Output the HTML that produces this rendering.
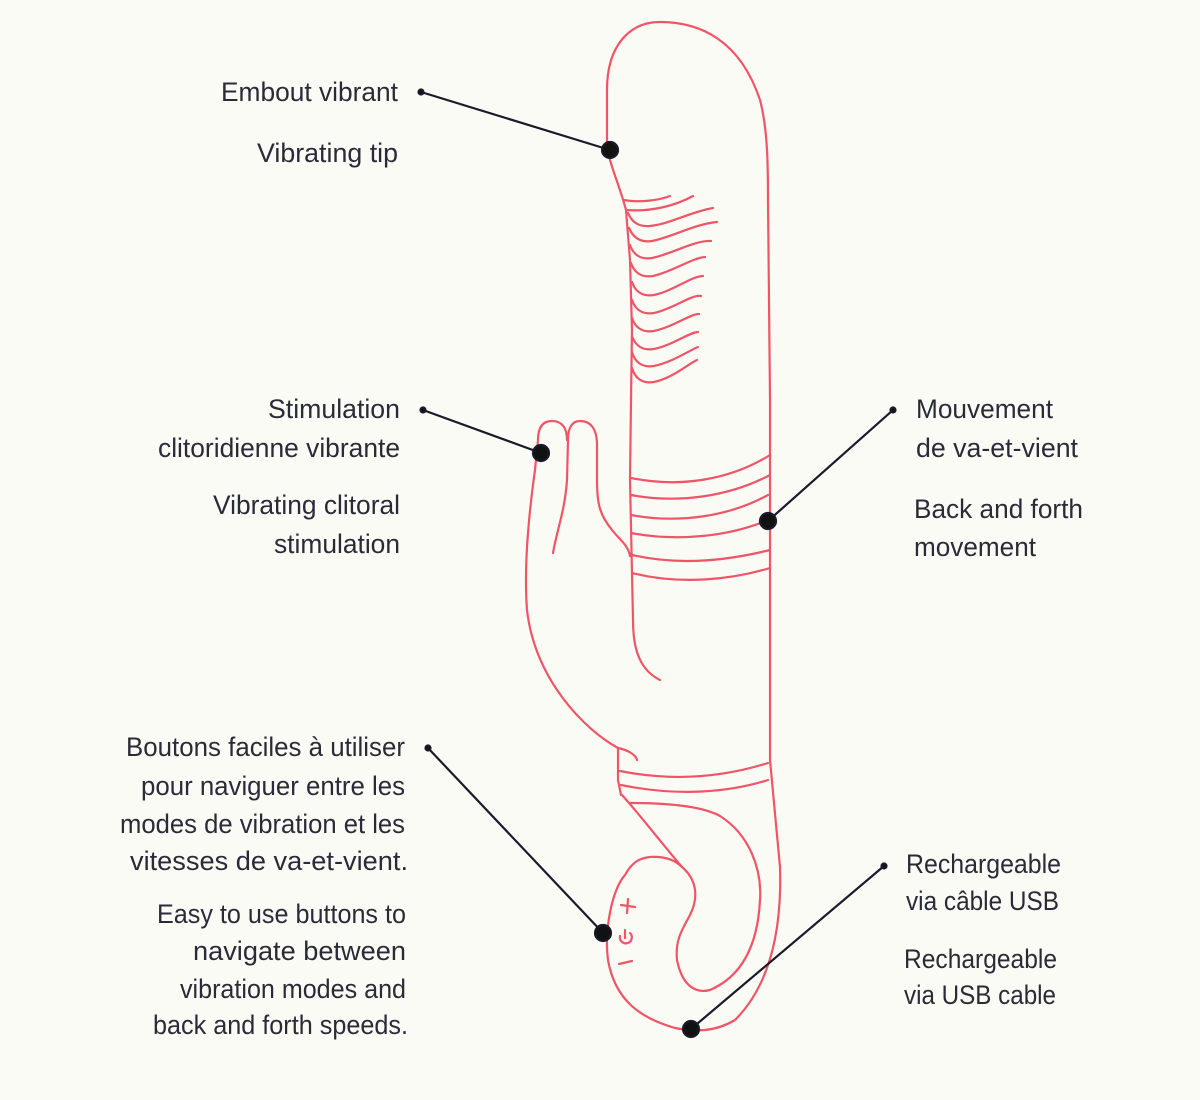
<!DOCTYPE html>
<html><head><meta charset="utf-8"><style>
html,body{margin:0;padding:0;background:#fbfbf6;}
svg{display:block}
text{font-family:"Liberation Sans Narrow","Liberation Sans",sans-serif;font-size:27px;fill:#2b2b38;}
</style></head><body>
<svg width="1200" height="1100" viewBox="0 0 1200 1100" xmlns="http://www.w3.org/2000/svg">
<rect width="1200" height="1100" fill="#fbfbf6"/>
<g fill="none" stroke="#ee5566" stroke-width="2.2" stroke-linecap="round" stroke-linejoin="round">
<!-- shaft outer -->
<path d="M660,680 C640,670 633,650 633,620 L630,480 L631,400 L632,330 L630,260 L626,210 C618,180 607,160 607,140 L607,90 C607,45 630,22 660,22 C700,22 740,40 760,100 C768,130 768,170 768,200 L770,400 L770,760 L780,867 C782,930 770,985 735,1020 C715,1032 695,1032 675,1028 C640,1018 615,1000 608,960 C604,930 612,890 625,875 C632,862 640,858 650,857 C665,856 675,860 682,867"/>
<!-- ribs -->
<path d="M624,200 C640,203 660,200 670,196"/>
<path d="M626,210 C650,212 675,206 693,196"/>
<path d="M628,213 C632,222 638,227 650,226 C670,224 690,212 713,208"/>
<path d="M629,228 C633,237 640,243 652,241 C672,237 695,224 717,222"/>
<path d="M630,245 C633,254 640,260 652,258 C672,254 695,240 711,241"/>
<path d="M631,263 C634,272 641,278 653,276 C672,272 692,258 705,257"/>
<path d="M632,282 C635,291 642,297 654,295 C673,291 692,276 703,276"/>
<path d="M632,300 C635,309 642,315 654,313 C673,309 692,294 701,296"/>
<path d="M632,318 C635,327 642,333 654,331 C673,327 690,314 699,314"/>
<path d="M632,336 C635,345 642,351 654,349 C673,345 690,332 698,332"/>
<path d="M632,352 C635,362 642,368 654,366 C673,362 690,350 698,347"/>
<path d="M632,368 C635,378 642,384 654,382 C673,378 688,364 697,360"/>
<!-- rings -->
<path d="M631,478 C680,488 730,480 770,455"/>
<path d="M631,495 C680,504 730,496 770,475"/>
<path d="M631,515 C680,524 730,516 768,495"/>
<path d="M631,533 C680,542 730,536 768,520"/>
<path d="M632,555 C680,566 730,560 770,550"/>
<path d="M632,573 C680,585 730,580 770,568"/>
<!-- clitoral arm -->
<path d="M630,556 C628,545 620,540 612,530 C600,515 597,505 597,480 L597,445 C597,428 590,421 580,421 C572,421 568,428 568,440 L567,480 C565,510 557,530 553,553"/>
<path d="M567,440 C567,428 562,421 552,421 C542,421 538,428 538,440 L535,470 C528,520 524,570 527,610 C535,680 585,730 618,748 L618,780 L621,795"/>
<path d="M618,748 C628,750 636,755 637,760"/>
<!-- lower rings -->
<path d="M620,771 C680,783 730,775 768,763"/>
<path d="M621,785 C680,797 730,792 768,780"/>
<!-- handle lines -->
<path d="M622,795 C640,815 655,835 682,867"/>
<path d="M630,803 C660,803 700,805 720,816 C750,835 762,870 760,900 C758,940 745,975 710,990 C695,994 682,985 677,960 C675,940 682,930 690,915 C700,895 695,878 682,867"/>
<!-- buttons -->
<path d="M621,905 L635,907 M628,899 L627,913"/>
<path d="M630,933 A6,6 0 1 1 620,936 M625,930 L625,938"/>
<path d="M619,964 L632,961"/>
</g>
<!-- leaders -->
<g stroke="#1a1a2a" stroke-width="2.2" fill="#111">
<line x1="421" y1="92" x2="610" y2="150"/>
<circle cx="421" cy="92" r="2.5"/><circle cx="610" cy="150" r="8"/>
<line x1="423" y1="410" x2="541" y2="453"/>
<circle cx="423" cy="410" r="2.5"/><circle cx="541" cy="453" r="8"/>
<line x1="893" y1="410" x2="768" y2="521"/>
<circle cx="893" cy="410" r="2.5"/><circle cx="768" cy="521" r="8"/>
<line x1="428" y1="748" x2="603" y2="933"/>
<circle cx="428" cy="748" r="2.5"/><circle cx="603" cy="933" r="8"/>
<line x1="884" y1="866" x2="691" y2="1029"/>
<circle cx="884" cy="866" r="2.5"/><circle cx="691" cy="1029" r="8"/>
</g>
<g>
<text x="221" y="101" textLength="177" lengthAdjust="spacingAndGlyphs">Embout vibrant</text>
<text x="257" y="162" textLength="141" lengthAdjust="spacingAndGlyphs">Vibrating tip</text>
<text x="268" y="418" textLength="132" lengthAdjust="spacingAndGlyphs">Stimulation</text>
<text x="158" y="457" textLength="242" lengthAdjust="spacingAndGlyphs">clitoridienne vibrante</text>
<text x="213" y="514" textLength="187" lengthAdjust="spacingAndGlyphs">Vibrating clitoral</text>
<text x="274" y="553" textLength="126" lengthAdjust="spacingAndGlyphs">stimulation</text>
<text x="916" y="418" textLength="137" lengthAdjust="spacingAndGlyphs">Mouvement</text>
<text x="916" y="457" textLength="162" lengthAdjust="spacingAndGlyphs">de va-et-vient</text>
<text x="914" y="518" textLength="169" lengthAdjust="spacingAndGlyphs">Back and forth</text>
<text x="914" y="556" textLength="122" lengthAdjust="spacingAndGlyphs">movement</text>
<text x="126" y="756" textLength="279" lengthAdjust="spacingAndGlyphs">Boutons faciles à utiliser</text>
<text x="141" y="795" textLength="264" lengthAdjust="spacingAndGlyphs">pour naviguer entre les</text>
<text x="120" y="833" textLength="285" lengthAdjust="spacingAndGlyphs">modes de vibration et les</text>
<text x="130" y="870" textLength="278" lengthAdjust="spacingAndGlyphs">vitesses de va-et-vient.</text>
<text x="157" y="923" textLength="249" lengthAdjust="spacingAndGlyphs">Easy to use buttons to</text>
<text x="193" y="960" textLength="213" lengthAdjust="spacingAndGlyphs">navigate between</text>
<text x="180" y="998" textLength="226" lengthAdjust="spacingAndGlyphs">vibration modes and</text>
<text x="153" y="1034" textLength="255" lengthAdjust="spacingAndGlyphs">back and forth speeds.</text>
<text x="906" y="873" textLength="155" lengthAdjust="spacingAndGlyphs">Rechargeable</text>
<text x="906" y="910" textLength="153" lengthAdjust="spacingAndGlyphs">via câble USB</text>
<text x="904" y="968" textLength="153" lengthAdjust="spacingAndGlyphs">Rechargeable</text>
<text x="904" y="1004" textLength="152" lengthAdjust="spacingAndGlyphs">via USB cable</text>
</g>
</svg>
</body></html>
